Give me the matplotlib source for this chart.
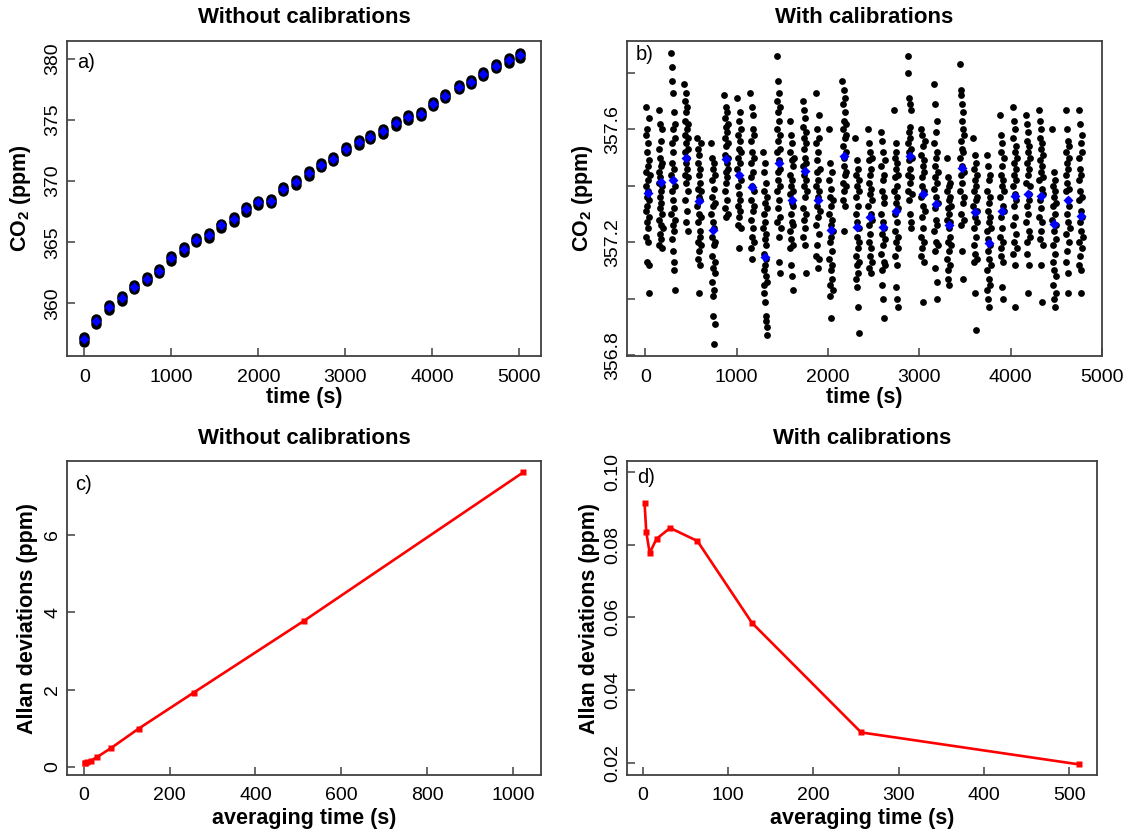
import numpy as np
import matplotlib
matplotlib.use("Agg")
import matplotlib.pyplot as plt

plt.rcParams["font.family"] = ["Liberation Sans", "DejaVu Sans"]
plt.rcParams["mathtext.fontset"] = "custom"
plt.rcParams["mathtext.rm"] = "Liberation Sans"
plt.rcParams["mathtext.default"] = "regular"

# raw CO2 record: cluster times (s), cluster means and blob extent (ppm)
a_time = [0, 137, 286, 427, 573, 719, 860, 1000, 1143, 1287, 1430, 1575,
          1717, 1858, 2000, 2146, 2287, 2428, 2580, 2717, 2862, 3006, 3152,
          3284, 3437, 3583, 3724, 3867, 4011, 4149, 4303, 4441, 4579, 4732,
          4878, 5008]
a_mean = [357.05, 358.53, 359.72, 360.43, 361.36, 362.01, 362.67, 363.68,
          364.44, 365.18, 365.56, 366.37, 366.88, 367.69, 368.25, 368.41,
          369.38, 369.92, 370.66, 371.32, 371.84, 372.62, 373.19, 373.63,
          374.08, 374.73, 375.22, 375.49, 376.31, 376.96, 377.72, 378.13,
          378.79, 379.44, 379.89, 380.29]
a_low = [356.82, 358.30, 359.50, 360.22, 361.15, 361.80, 362.45, 363.48,
         364.22, 364.98, 365.35, 366.15, 366.68, 367.48, 368.05, 368.20,
         369.18, 369.70, 370.45, 371.12, 371.62, 372.42, 372.98, 373.42,
         373.87, 374.52, 375.02, 375.28, 376.10, 376.76, 377.52, 377.92,
         378.58, 379.24, 379.68, 380.08]
a_high = [357.22, 358.70, 359.88, 360.60, 361.52, 362.17, 362.83, 363.84,
          364.60, 365.34, 365.72, 366.53, 367.04, 367.85, 368.41, 368.57,
          369.54, 370.08, 370.82, 371.48, 372.00, 372.78, 373.35, 373.79,
          374.24, 374.89, 375.38, 375.65, 376.47, 377.12, 377.88, 378.29,
          378.95, 379.60, 380.05, 380.45]

# calibrated CO2 record: cluster times (s), readings per cluster, cluster means
b_time = [25, 167, 305, 450, 590, 745, 888, 1028, 1172, 1313, 1460, 1602,
          1745, 1888, 2032, 2180, 2323, 2462, 2602, 2748, 2895, 3037, 3182,
          3323, 3468, 3613, 3760, 3905, 4045, 4190, 4333, 4478, 4623, 4765]
b_raw = [
    [357.68, 357.45, 357.31, 357.58, 357.22, 357.40, 357.52, 357.27, 357.36, 357.13, 357.60, 357.33, 357.47,
     357.20, 357.42, 357.55, 357.25, 357.38, 357.12, 357.49, 357.29, 357.64, 357.02, 357.35, 357.44],
    [357.67, 357.41, 357.28, 357.53, 357.19, 357.45, 357.36, 357.62, 357.23, 357.50, 357.32, 357.43, 357.26,
     357.56, 357.38, 357.21, 357.47, 357.34, 357.60, 357.30, 357.40, 357.18, 357.48, 357.25],
    [357.87, 357.44, 357.30, 357.82, 357.55, 357.21, 357.38, 357.77, 357.48, 357.26, 357.60, 357.35, 357.73,
     357.17, 357.42, 357.52, 357.13, 357.32, 357.66, 357.46, 357.24, 357.10, 357.57, 357.40, 357.03, 357.28,
     357.62],
    [357.76, 357.52, 357.63, 357.44, 357.70, 357.35, 357.58, 357.48, 357.66, 357.27, 357.55, 357.41, 357.73,
     357.60, 357.46, 357.31, 357.68, 357.50, 357.38, 357.57, 357.24, 357.62, 357.53, 357.43],
    [357.57, 357.33, 357.20, 357.48, 357.14, 357.39, 357.27, 357.53, 357.36, 357.17, 357.44, 357.30, 357.02,
     357.51, 357.24, 357.41, 357.12, 357.35, 357.46, 357.22, 357.29, 357.55, 357.38, 357.19],
    [357.55, 357.30, 357.15, 357.42, 357.06, 357.36, 357.22, 357.50, 357.01, 357.27, 357.11, 357.46, 356.94,
     357.33, 357.19, 357.39, 357.03, 357.25, 356.84, 357.48, 357.13, 357.09, 357.34, 356.91, 357.20, 357.44],
    [357.72, 357.51, 357.38, 357.64, 357.32, 357.57, 357.45, 357.68, 357.29, 357.54, 357.41, 357.61, 357.48,
     357.35, 357.66, 357.43, 357.59, 357.50, 357.30, 357.62, 357.46, 357.55],
    [357.71, 357.46, 357.33, 357.58, 357.26, 357.50, 357.40, 357.63, 357.29, 357.53, 357.37, 357.44, 357.18,
     357.56, 357.31, 357.48, 357.66, 357.35, 357.42, 357.60, 357.25, 357.52],
    [357.73, 357.43, 357.28, 357.56, 357.18, 357.48, 357.35, 357.68, 357.22, 357.52, 357.40, 357.14, 357.60,
     357.31, 357.45, 357.65, 357.25, 357.38, 357.58, 357.20, 357.50, 357.33],
    [357.52, 357.25, 357.10, 357.38, 357.05, 357.30, 357.16, 357.45, 357.02, 357.21, 357.34, 356.99, 357.12,
     357.48, 357.27, 356.94, 357.19, 357.08, 357.41, 356.92, 357.23, 357.14, 356.90, 357.32, 356.87, 357.06,
     357.36],
    [357.86, 357.52, 357.38, 357.70, 357.27, 357.60, 357.45, 357.77, 357.32, 357.56, 357.42, 357.66, 357.22,
     357.49, 357.73, 357.35, 357.63, 357.13, 357.53, 357.40, 357.68, 357.29, 357.09, 357.58, 357.46, 357.25],
    [357.63, 357.37, 357.24, 357.52, 357.18, 357.44, 357.30, 357.58, 357.21, 357.40, 357.12, 357.49, 357.34,
     357.27, 357.55, 357.08, 357.42, 357.19, 357.47, 357.33, 357.03, 357.38, 357.26, 357.50],
    [357.70, 357.47, 357.32, 357.61, 357.22, 357.53, 357.40, 357.67, 357.28, 357.57, 357.44, 357.36, 357.64,
     357.19, 357.50, 357.25, 357.59, 357.09, 357.42, 357.55, 357.30, 357.48, 357.38],
    [357.73, 357.40, 357.26, 357.55, 357.15, 357.45, 357.33, 357.60, 357.19, 357.49, 357.36, 357.11, 357.52,
     357.29, 357.42, 357.65, 357.23, 357.38, 357.57, 357.14, 357.31, 357.46],
    [357.60, 357.30, 357.14, 357.42, 357.05, 357.36, 357.20, 357.48, 357.01, 357.26, 357.10, 357.39, 357.22,
     356.93, 357.33, 357.17, 357.45, 357.07, 357.28, 357.12, 357.35, 357.03, 357.24],
    [357.77, 357.54, 357.41, 357.69, 357.35, 357.60, 357.47, 357.74, 357.38, 357.63, 357.50, 357.24, 357.66,
     357.44, 357.57, 357.33, 357.71, 357.52, 357.45, 357.62, 357.40, 357.58],
    [357.57, 357.30, 357.15, 357.44, 357.07, 357.36, 357.22, 357.49, 357.04, 357.27, 357.12, 357.40, 356.97,
     357.33, 357.18, 357.46, 357.09, 357.25, 356.88, 357.38, 357.20, 357.42, 357.13],
    [357.60, 357.33, 357.20, 357.49, 357.11, 357.41, 357.26, 357.55, 357.15, 357.37, 357.44, 357.23, 357.52,
     357.09, 357.30, 357.46, 357.18, 357.39, 357.28, 357.50, 357.13, 357.35],
    [357.59, 357.30, 357.16, 357.47, 357.10, 357.38, 357.23, 357.56, 357.05, 357.27, 357.42, 357.19, 357.52,
     357.00, 357.34, 357.13, 357.44, 356.93, 357.25, 357.36, 357.21, 357.49, 357.12],
    [357.67, 357.38, 357.24, 357.50, 357.15, 357.43, 357.30, 357.55, 357.20, 357.46, 357.34, 357.04, 357.52,
     357.27, 357.40, 357.12, 357.00, 357.36, 357.48, 357.22, 356.97, 357.32, 357.44, 357.18],
    [357.86, 357.55, 357.44, 357.80, 357.38, 357.59, 357.49, 357.71, 357.35, 357.52, 357.61, 357.41, 357.69,
     357.30, 357.57, 357.46, 357.67, 357.27, 357.53, 357.43, 357.25, 357.50, 357.37],
    [357.60, 357.36, 357.22, 357.51, 357.15, 357.43, 357.29, 357.58, 357.18, 357.40, 357.47, 357.25, 356.99,
     357.54, 357.33, 357.13, 357.45, 357.38, 357.20, 357.49, 357.31, 357.56],
    [357.76, 357.39, 357.24, 357.55, 357.17, 357.47, 357.32, 357.69, 357.11, 357.43, 357.28, 357.59, 357.20,
     357.50, 357.36, 357.06, 357.63, 357.26, 357.41, 357.00, 357.52, 357.34, 357.45, 357.19],
    [357.50, 357.28, 357.14, 357.38, 357.07, 357.32, 357.20, 357.43, 357.10, 357.25, 357.35, 357.17, 357.40,
     357.05, 357.30, 357.22, 357.36, 357.12, 357.27, 357.41, 357.19, 357.33],
    [357.83, 357.50, 357.38, 357.74, 357.30, 357.56, 357.44, 357.72, 357.26, 357.53, 357.63, 357.41, 357.69,
     357.17, 357.47, 357.34, 357.60, 357.07, 357.52, 357.66, 357.36, 357.58, 357.45, 357.28],
    [357.57, 357.33, 357.19, 357.46, 357.13, 357.38, 357.25, 357.51, 357.02, 357.29, 357.42, 357.16, 357.48,
     357.35, 356.89, 357.22, 357.40, 357.31, 357.14, 357.44, 357.27, 357.36],
    [357.51, 357.24, 357.10, 357.38, 357.03, 357.31, 357.17, 357.47, 357.00, 357.21, 357.34, 357.07, 357.42,
     357.14, 357.27, 356.97, 357.36, 357.19, 357.05, 357.29, 357.44, 357.12, 357.25],
    [357.65, 357.36, 357.22, 357.52, 357.15, 357.44, 357.29, 357.58, 357.18, 357.40, 357.47, 357.04, 357.25,
     357.55, 357.33, 357.13, 357.00, 357.42, 357.20, 357.50, 357.31, 357.38],
    [357.68, 357.40, 357.26, 357.57, 357.16, 357.48, 357.33, 357.63, 357.20, 357.44, 357.52, 357.29, 356.97,
     357.60, 357.37, 357.12, 357.46, 357.23, 357.54, 357.35, 357.42, 357.18, 357.50],
    [357.65, 357.41, 357.27, 357.56, 357.16, 357.48, 357.33, 357.62, 357.20, 357.44, 357.52, 357.30, 357.02,
     357.59, 357.37, 357.12, 357.46, 357.24, 357.54, 357.35, 357.40, 357.50, 357.22],
    [357.67, 357.42, 357.29, 357.57, 357.21, 357.49, 357.35, 357.63, 357.24, 357.45, 357.53, 357.12, 357.32,
     357.60, 357.39, 356.99, 357.47, 357.27, 357.55, 357.37, 357.43, 357.51, 357.19],
    [357.60, 357.28, 357.13, 357.40, 357.05, 357.33, 357.19, 357.45, 357.00, 357.24, 357.36, 357.10, 357.42,
     356.97, 357.30, 357.16, 357.38, 357.08, 357.26, 357.21, 357.34, 357.02],
    [357.67, 357.38, 357.23, 357.52, 357.13, 357.44, 357.30, 357.60, 357.17, 357.41, 357.48, 357.09, 357.27,
     357.56, 357.35, 357.02, 357.46, 357.20, 357.54, 357.33, 357.39, 357.50, 357.25],
    [357.67, 357.35, 357.20, 357.50, 357.12, 357.42, 357.27, 357.62, 357.15, 357.38, 357.46, 357.02, 357.24,
     357.55, 357.31, 357.10, 357.44, 357.18, 357.52, 357.29, 357.36, 357.58, 357.22],
]
b_mean = [357.375, 357.415, 357.42, 357.498, 357.346, 357.245, 357.494, 357.44,
          357.397, 357.149, 357.48, 357.351, 357.452, 357.351, 357.242, 357.507,
          357.255, 357.288, 357.255, 357.31, 357.507, 357.37, 357.334, 357.26,
          357.462, 357.306, 357.197, 357.31, 357.365, 357.37, 357.363, 357.264,
          357.351, 357.293]

# Allan deviations vs averaging time
tau_raw = [2, 4, 8, 16, 32, 64, 128, 256, 512, 1024]
adev_raw = [0.09, 0.10, 0.12, 0.16, 0.26, 0.49, 0.99, 1.92, 3.77, 7.62]
tau_cal = [2, 4, 8, 16, 32, 64, 128, 256, 512]
adev_cal = [0.0915, 0.0835, 0.0777, 0.0816, 0.0846, 0.0810, 0.0585, 0.0284, 0.0196]

W, H = 1130, 831
fig = plt.figure(figsize=(W / 100, H / 100), dpi=100)


def add_panel(left, top, right, bottom):
    return fig.add_axes([left / W, 1 - bottom / H, (right - left) / W, (bottom - top) / H])


def style(ax, title, xlabel, ylabel, tag, tag_xy, ylab_x, xlab_y, title_y):
    for sp in ax.spines.values():
        sp.set_color("#404040")
        sp.set_linewidth(1.3)
    ax.tick_params(direction="in", length=6, width=1.1, color="#404040",
                   labelsize=14)
    ax.tick_params(axis="x", pad=9)
    ax.tick_params(axis="y", pad=4, labelrotation=90)
    for lbl in ax.get_yticklabels():
        lbl.set_va("center")
    ax.text(0.5, title_y, title, transform=ax.transAxes, fontsize=16,
            fontweight="bold", ha="center", va="center")
    ax.set_xlabel(xlabel, fontsize=15.5, fontweight="bold")
    ax.set_ylabel(ylabel, fontsize=15.5, fontweight="bold")
    ax.xaxis.set_label_coords(0.5, xlab_y)
    ax.xaxis.label.set_va("center")
    ax.yaxis.set_label_coords(ylab_x, 0.5)
    ax.yaxis.label.set_va("center")
    ax.text(tag_xy[0], tag_xy[1], tag, transform=ax.transAxes, fontsize=14.5,
            ha="left", va="top")


# a) raw record
ax = add_panel(67, 41, 541, 356)
for ys in (a_low, a_mean, a_high):
    ax.plot(a_time, ys, "o", color="black", ms=7.5, mec="none")
ax.plot(a_time, a_mean, "D", color="blue", ms=5.5, mec="none")
ax.set_xlim(-200, 5250)
ax.set_ylim(355.7, 381.45)
ax.set_xticks(range(0, 5001, 1000))
ax.set_yticks(range(360, 381, 5))
style(ax, "Without calibrations", "time (s)", "CO$_2$ (ppm)", "a)",
      (0.021, 0.962), -0.099, -0.133, 1.076)

# b) calibrated record
ax = add_panel(627, 41, 1102, 356)
for tc, vals in zip(b_time, b_raw):
    offs = np.linspace(-22, 22, len(vals))
    ax.plot(tc + offs, vals, "o", color="black", ms=4.9, mec="none")
ax.plot(b_time, b_mean, "D", color="blue", ms=5.5, mec="none")
ax.set_xlim(-200, 5000)
ax.set_ylim(356.797, 357.913)
ax.set_xticks(range(0, 5001, 1000))
ax.set_yticks([356.8, 357.0, 357.2, 357.4, 357.6, 357.8])
ax.set_yticklabels(["356.8", "", "357.2", "", "357.6", ""])
style(ax, "With calibrations", "time (s)", "CO$_2$ (ppm)", "b)",
      (0.019, 0.987), -0.093, -0.133, 1.076)

# c) Allan deviation, raw
ax = add_panel(67, 461, 541, 775)
ax.plot(tau_raw, adev_raw, "-s", color="red", lw=1.9, ms=4.5, mec="none")
ax.set_xlim(-39, 1065)
ax.set_ylim(-0.21, 7.91)
ax.set_xticks(range(0, 1001, 200))
ax.set_yticks([0, 2, 4, 6])
style(ax, "Without calibrations", "averaging time (s)", "Allan deviations (ppm)",
      "c)", (0.017, 0.955), -0.084, -0.137, 1.073)

# d) Allan deviation, calibrated
ax = add_panel(627, 461, 1097, 775)
ax.plot(tau_cal, adev_cal, "-s", color="red", lw=1.9, ms=4.5, mec="none")
ax.set_xlim(-18.6, 532.6)
ax.set_ylim(0.0167, 0.103)
ax.set_xticks(range(0, 501, 100))
ax.set_yticks([0.02, 0.04, 0.06, 0.08, 0.10])
ax.set_yticklabels(["0.02", "0.04", "0.06", "0.08", "0.10"])
style(ax, "With calibrations", "averaging time (s)", "Allan deviations (ppm)",
      "d)", (0.021, 0.978), -0.079, -0.137, 1.073)

fig.savefig("out.png", dpi=100)
